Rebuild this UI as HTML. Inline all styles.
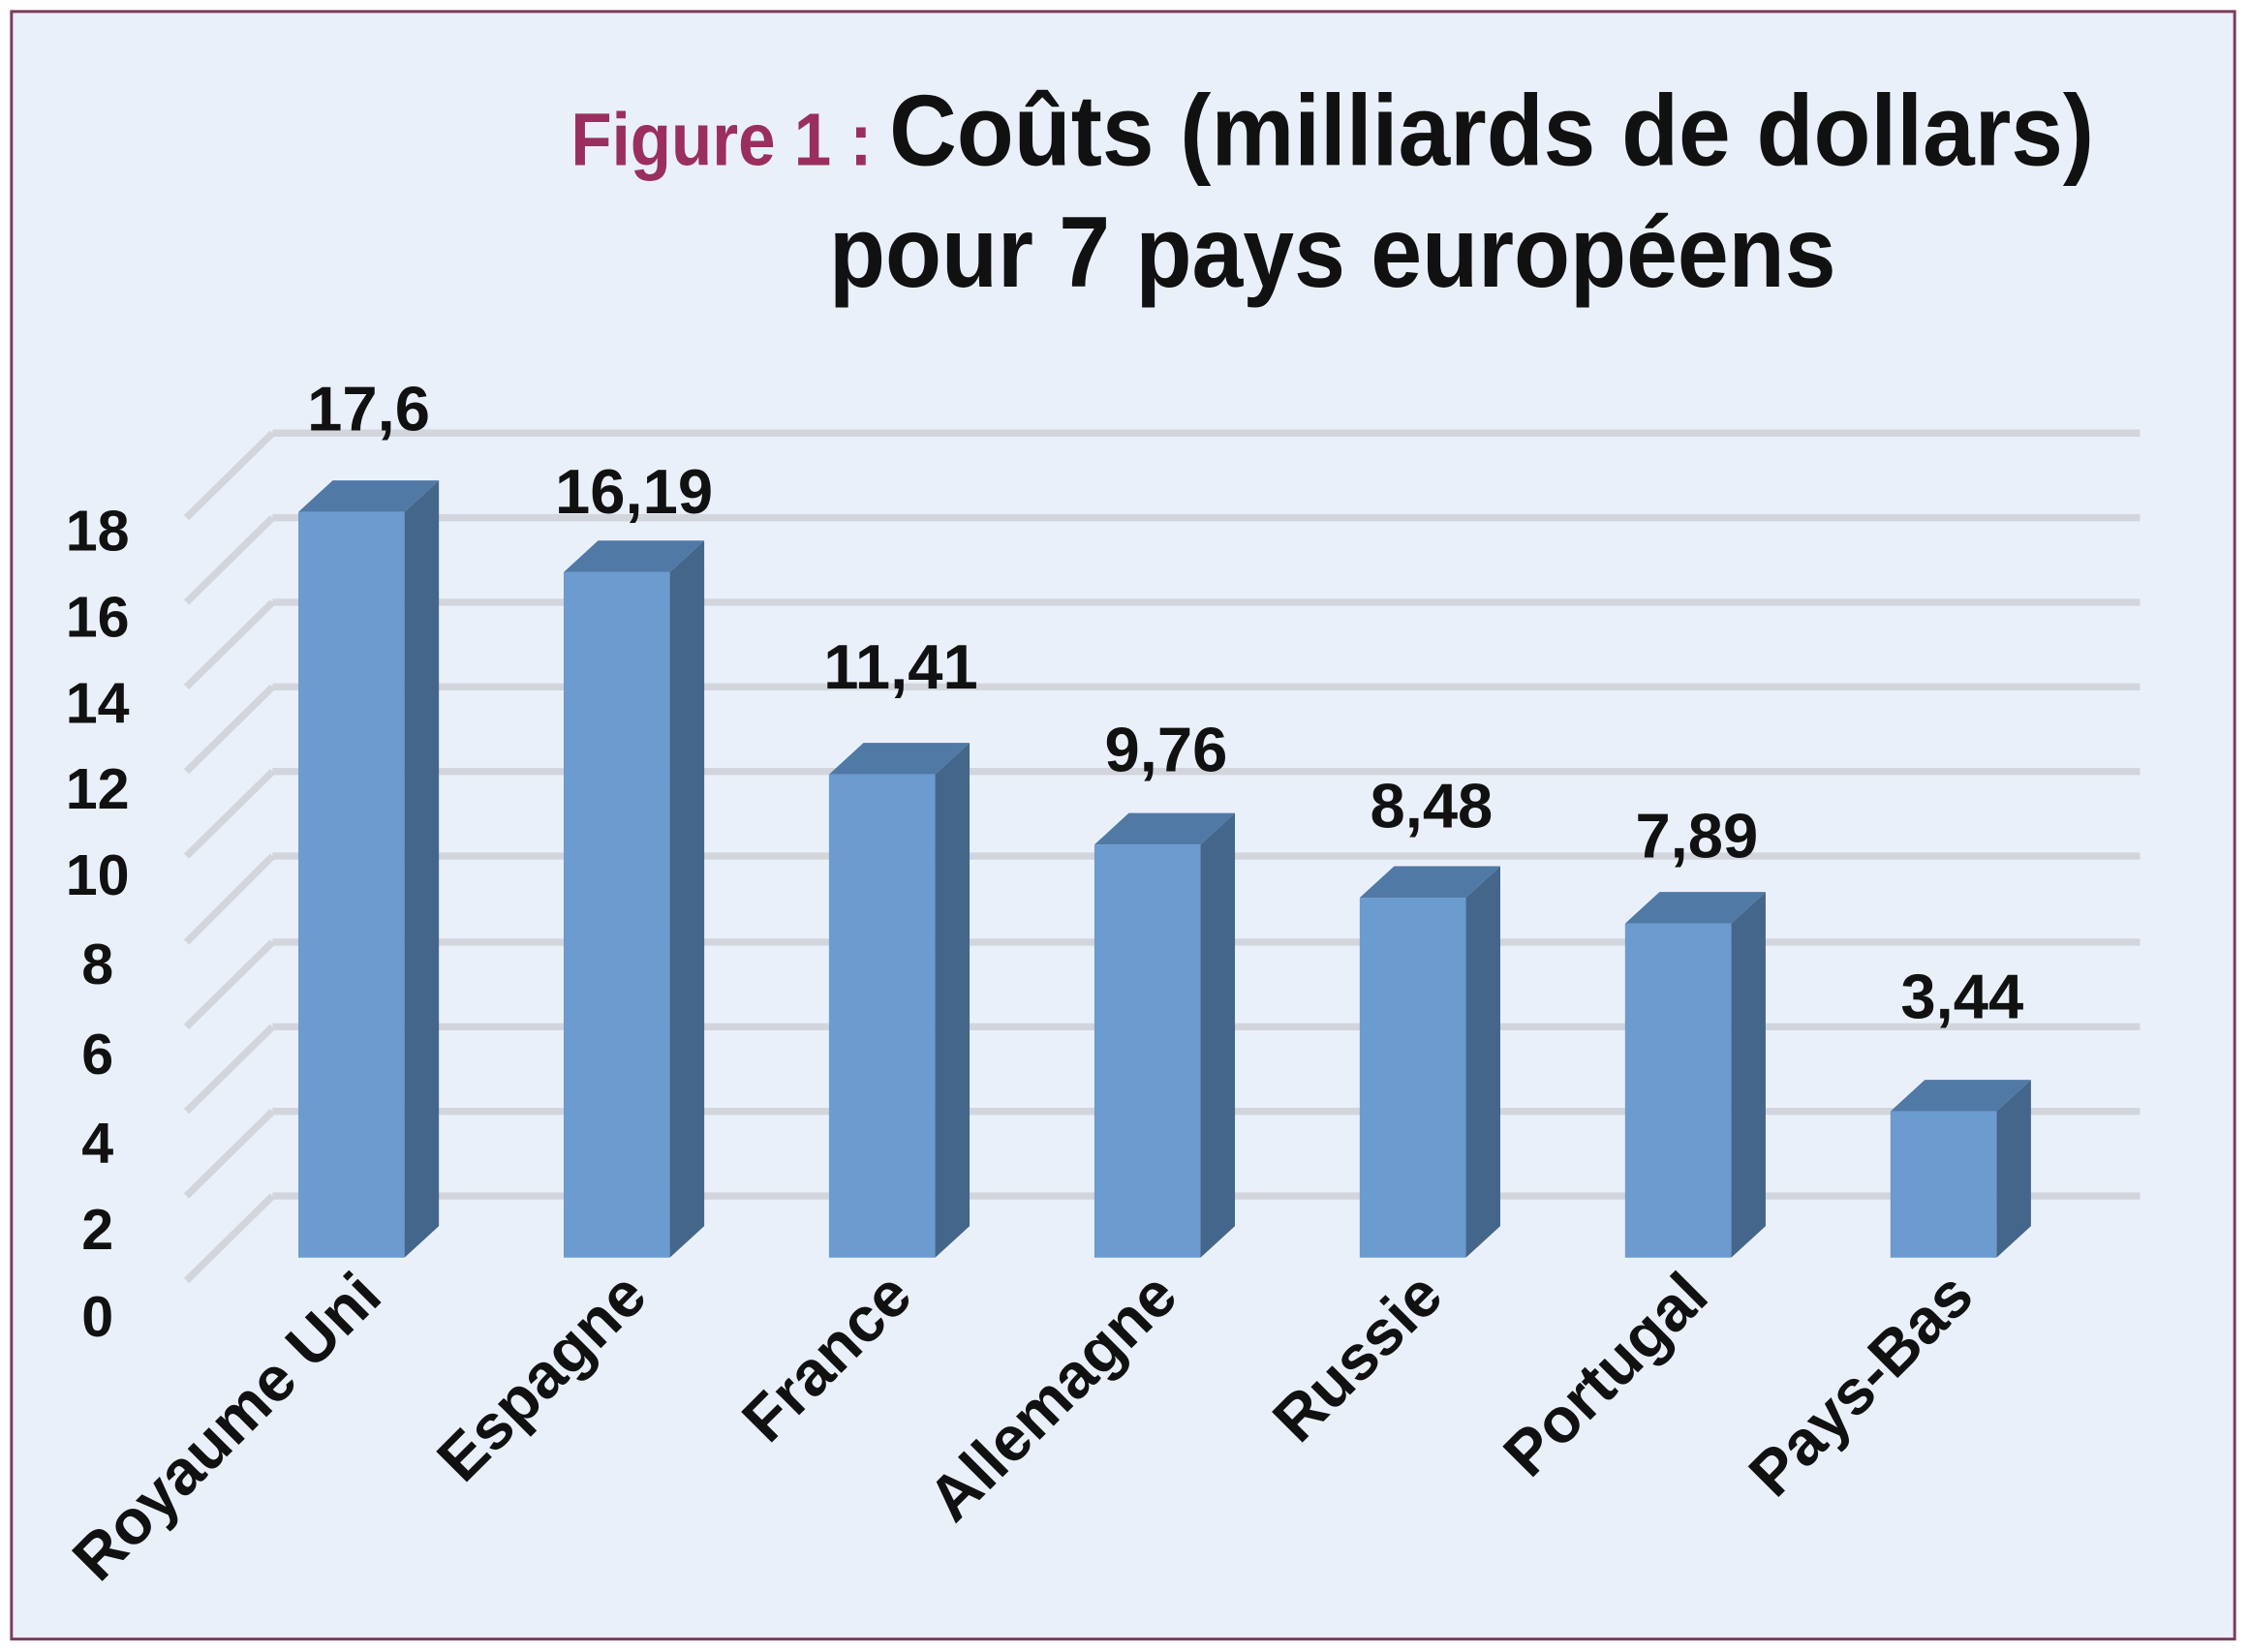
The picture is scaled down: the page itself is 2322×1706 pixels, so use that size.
<!DOCTYPE html>
<html><head><meta charset="utf-8"><style>
html,body{margin:0;padding:0;background:#fff}
svg{display:block}
text{font-family:"Liberation Sans Narrow","Liberation Sans",sans-serif}
</style></head><body>
<svg width="2322" height="1706" viewBox="0 0 1568 1152" xmlns="http://www.w3.org/2000/svg">
<rect x="0" y="0" width="1568" height="1152" fill="#ffffff"/>
<rect x="8" y="8" width="1550" height="1135" fill="#eaf0fa" stroke="#7b3c5c" stroke-width="2"/>
<text x="398" y="115" font-size="52" font-weight="bold" fill="#9a2f5f" textLength="210" lengthAdjust="spacingAndGlyphs">Figure 1 :</text>
<text x="620" y="115" font-size="70" font-weight="bold" fill="#111" textLength="840" lengthAdjust="spacingAndGlyphs">Coûts (milliards de dollars)</text>
<text x="578" y="200" font-size="70" font-weight="bold" fill="#111" textLength="702" lengthAdjust="spacingAndGlyphs">pour 7 pays européens</text>
<g stroke="#d2d5dc" stroke-width="5" fill="none">
<path d="M190 302H1492M130 361L190 302"/>
<path d="M190 361H1492M130 420L190 361"/>
<path d="M190 420H1492M130 479L190 420"/>
<path d="M190 479H1492M130 538L190 479"/>
<path d="M190 538H1492M130 597L190 538"/>
<path d="M190 597H1492M130 657L190 597"/>
<path d="M190 657H1492M130 716L190 657"/>
<path d="M190 716H1492M130 775L190 716"/>
<path d="M190 775H1492M130 834L190 775"/>
<path d="M190 834H1492M130 893L190 834"/>
</g>
<g font-size="40" font-weight="bold" fill="#111" text-anchor="middle">
<text x="68" y="384">18</text><text x="68" y="444">16</text><text x="68" y="504">14</text>
<text x="68" y="564">12</text><text x="68" y="624">10</text><text x="68" y="686">8</text>
<text x="68" y="749">6</text><text x="68" y="811">4</text><text x="68" y="871">2</text>
<text x="68" y="932">0</text>
</g>
<g font-size="44" fill="#111" text-anchor="middle" font-weight="bold">
<text x="257" y="300">17,6</text>
<text x="442" y="358">16,19</text>
<text x="628" y="480">11,41</text>
<text x="813" y="538">9,76</text>
<text x="998" y="577">8,48</text>
<text x="1183" y="598">7,89</text>
<text x="1368" y="710">3,44</text>
</g>
<g font-size="44" font-weight="bold" fill="#111" text-anchor="end">
<text transform="translate(268,906) rotate(-45)">Royaume Uni</text>
<text transform="translate(453,906) rotate(-45)">Espagne</text>
<text transform="translate(638,906) rotate(-45)">France</text>
<text transform="translate(823,906) rotate(-45)">Allemagne</text>
<text transform="translate(1008,906) rotate(-45)">Russie</text>
<text transform="translate(1193,906) rotate(-45)">Portugal</text>
<text transform="translate(1378,906) rotate(-45)">Pays-Bas</text>
</g>
<g>
<g><path d="M282 357L306 335V855L282 877Z" fill="#44668a"/><path d="M208 357L232 335H306L282 357Z" fill="#5079a6"/><rect x="208" y="357" width="74" height="520" fill="#6b9bcf"/></g>
<g><path d="M467 399L491 377V855L467 877Z" fill="#44668a"/><path d="M393 399L417 377H491L467 399Z" fill="#5079a6"/><rect x="393" y="399" width="74" height="478" fill="#6b9bcf"/></g>
<g><path d="M652 540L676 518V855L652 877Z" fill="#44668a"/><path d="M578 540L602 518H676L652 540Z" fill="#5079a6"/><rect x="578" y="540" width="74" height="337" fill="#6b9bcf"/></g>
<g><path d="M837 589L861 567V855L837 877Z" fill="#44668a"/><path d="M763 589L787 567H861L837 589Z" fill="#5079a6"/><rect x="763" y="589" width="74" height="288" fill="#6b9bcf"/></g>
<g><path d="M1022 626L1046 604V855L1022 877Z" fill="#44668a"/><path d="M948 626L972 604H1046L1022 626Z" fill="#5079a6"/><rect x="948" y="626" width="74" height="251" fill="#6b9bcf"/></g>
<g><path d="M1207 644L1231 622V855L1207 877Z" fill="#44668a"/><path d="M1133 644L1157 622H1231L1207 644Z" fill="#5079a6"/><rect x="1133" y="644" width="74" height="233" fill="#6b9bcf"/></g>
<g><path d="M1392 775L1416 753V855L1392 877Z" fill="#44668a"/><path d="M1318 775L1342 753H1416L1392 775Z" fill="#5079a6"/><rect x="1318" y="775" width="74" height="102" fill="#6b9bcf"/></g>
</g>
</svg>
</body></html>
